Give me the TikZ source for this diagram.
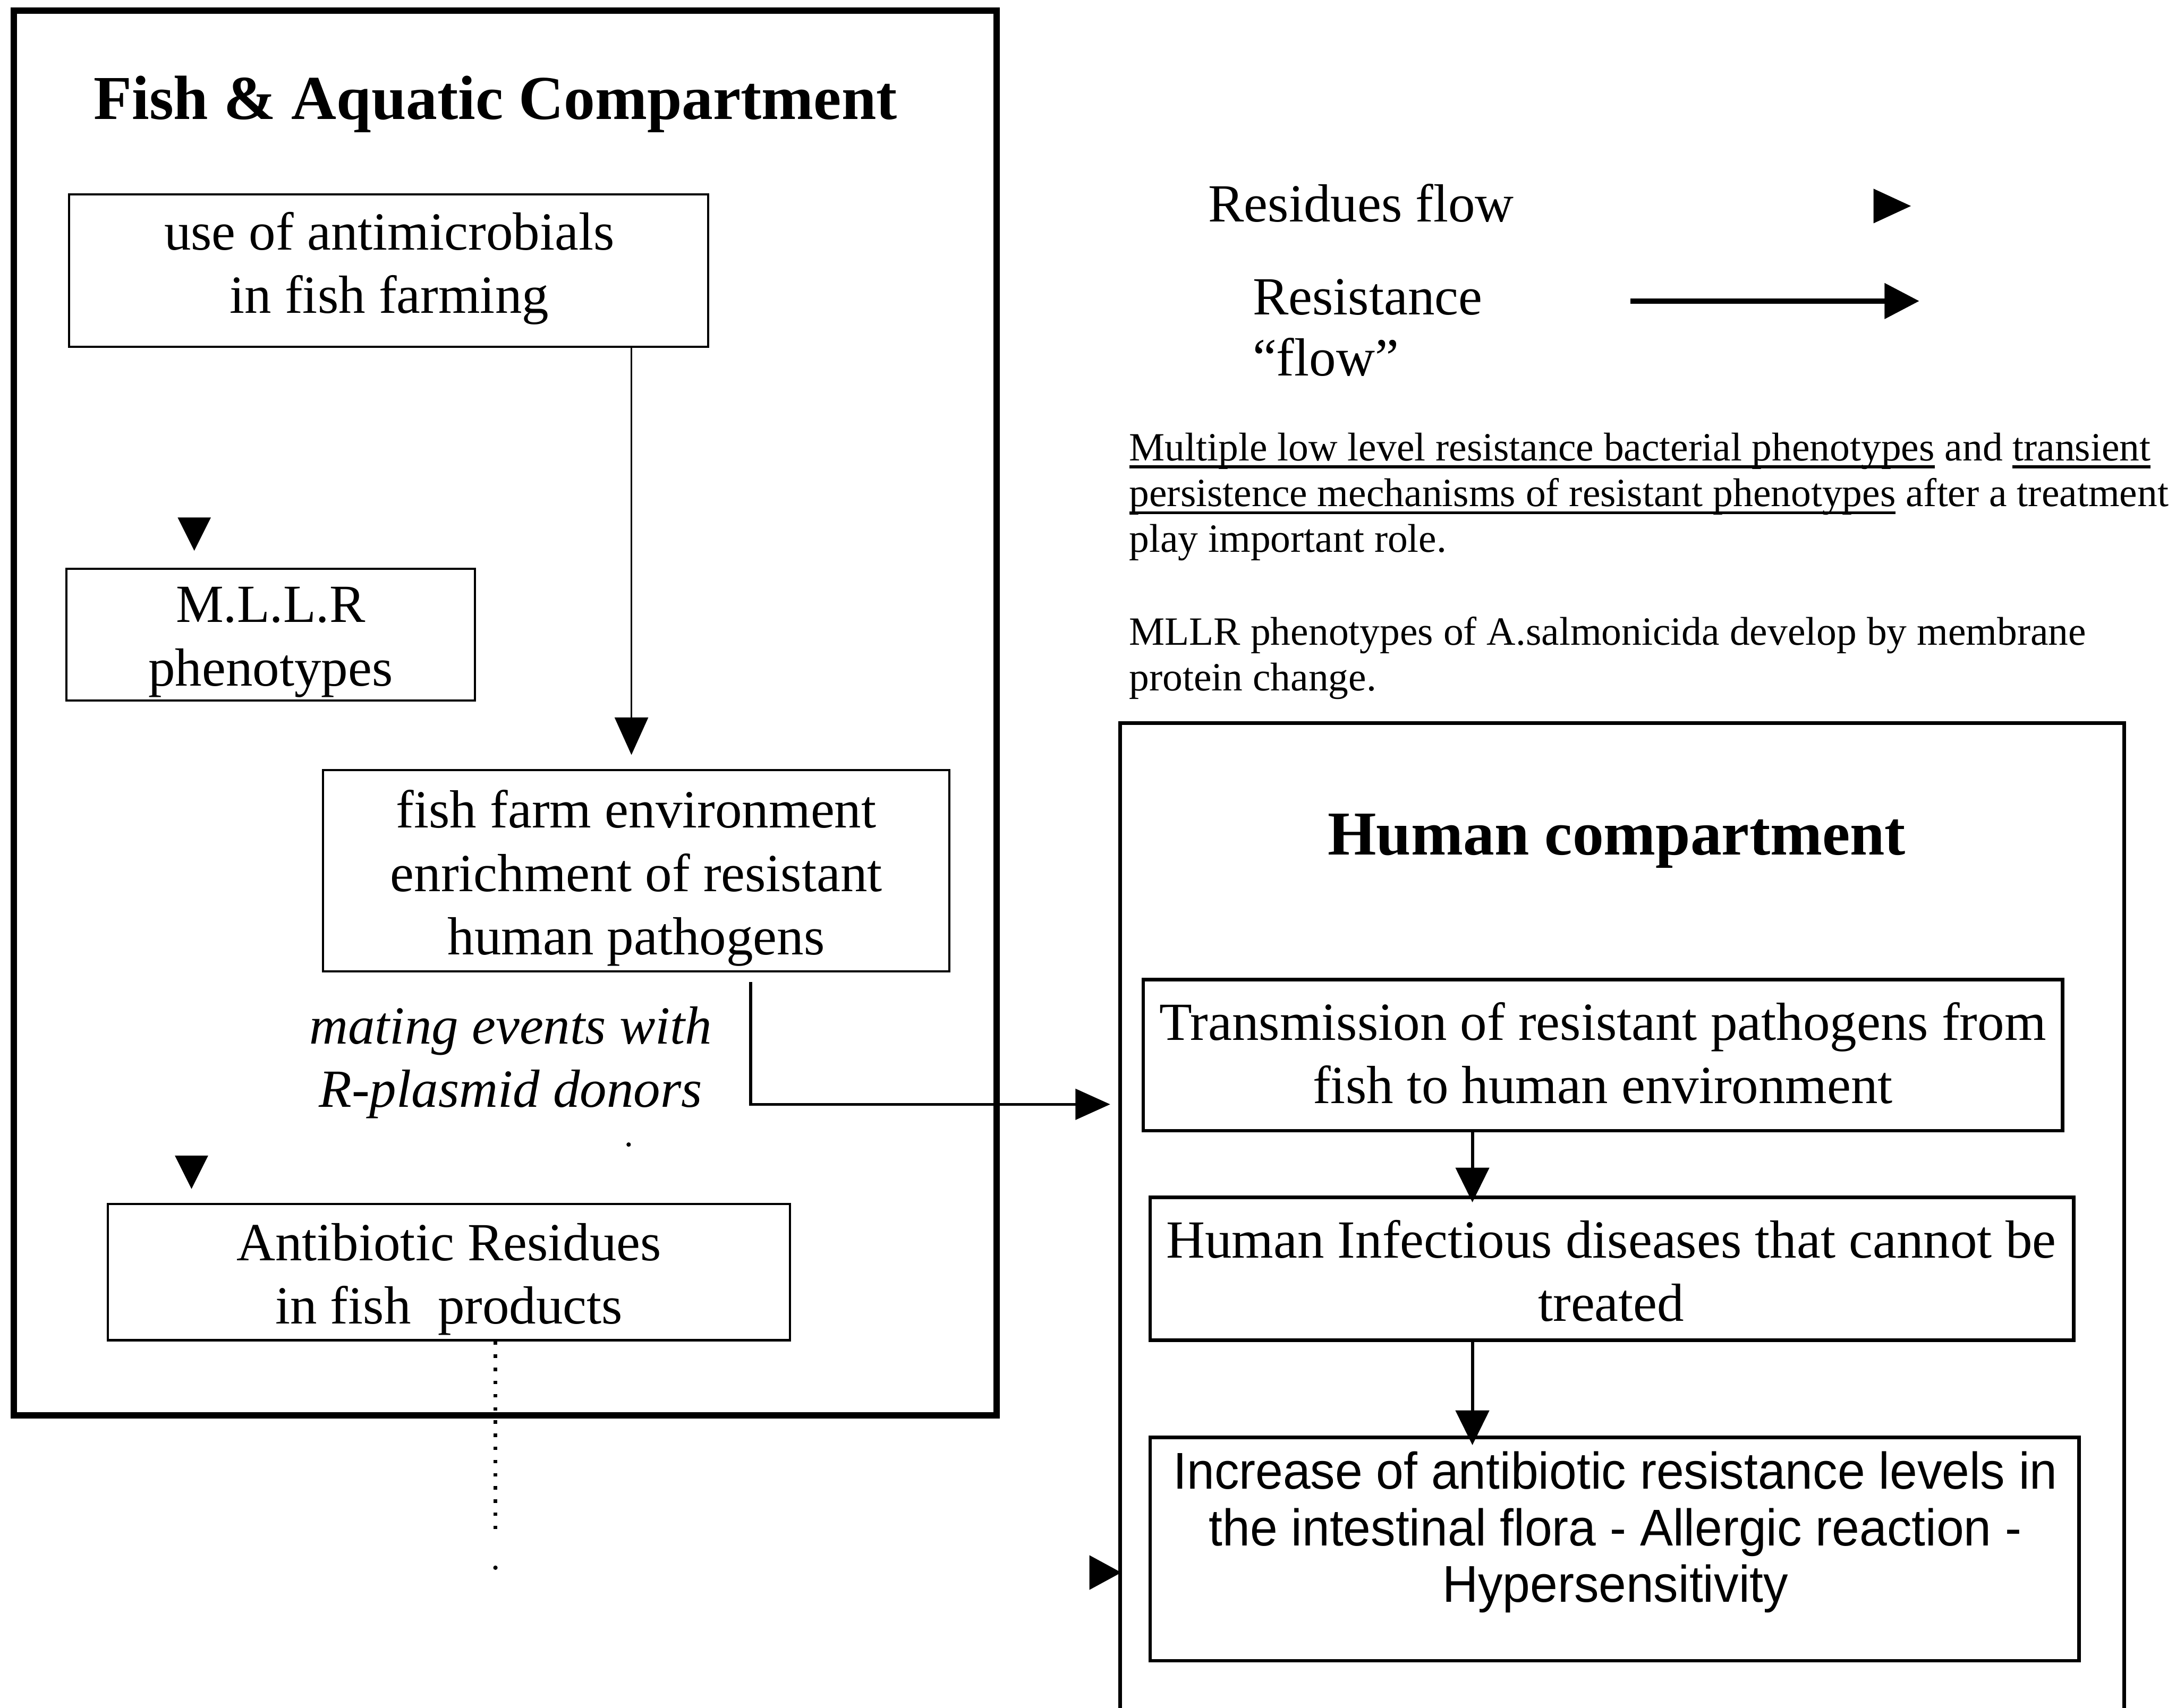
\documentclass[tikz,border=0pt]{standalone}
\usepackage{fontspec}
\setmainfont{Liberation Serif}
\newfontfamily\arialf{Liberation Sans}[FakeStretch=0.955]
\usetikzlibrary{arrows.meta}
\newcommand{\ulx}[1]{\setbox0=\hbox{#1}\rlap{\rule[-1.6pt]{\wd0}{0.6pt}}\box0\relax}
\begin{document}
\begin{tikzpicture}[x=0.01cm,y=-0.01cm,
  outer/.style={draw, line width=1.3pt, inner sep=0pt},
  lbox/.style={draw, line width=0.45pt, inner sep=0pt},
  hbox/.style={draw, line width=0.75pt, inner sep=0pt},
  btxt/.style={align=center, inner sep=0pt, font=\fontsize{11}{13}\selectfont},
  ttl/.style={font=\fontsize{12.8}{15}\selectfont\bfseries, anchor=base, inner sep=0pt},
  lgd/.style={font=\fontsize{11}{13}\selectfont, anchor=base west, inner sep=0pt},
  para/.style={font=\fontsize{8.22}{9.4}\selectfont, anchor=base west, inner sep=0pt},
  conn/.style={line width=0.4pt, -{Triangle[length=0.27cm,width=0.24cm]}},
  hconn/.style={line width=0.65pt, -{Triangle[length=0.25cm,width=0.24cm]}},
]
\path[use as bounding box] (0,0) rectangle (1568,1231);
\clip (0,0) rectangle (1568,1231);

% compartments
\node[outer, minimum width=7.08cm, minimum height=10.12cm] (fishc) at (364,514) {};
\node[draw, line width=0.75pt, inner sep=0pt, minimum width=7.23cm, minimum height=7.4cm, anchor=north west] (humc) at (806,520) {};

% titles
\node[ttl] (t1) at (357,86) {Fish \& Aquatic Compartment};
\node[ttl] (t2) at (1165,616) {Human compartment};

% left boxes
\node[lbox, minimum width=4.6cm, minimum height=1.1cm] (use) at (280,195) {};
\node[btxt] (usetxt) at (280.5,193.5) {use of antimicrobials\\in fish farming};
\node[lbox, minimum width=2.94cm, minimum height=0.95cm] (mllr) at (195,457.5) {};
\node[btxt] (mllrtxt) at (195,463) {M.L.L.R\\phenotypes};
\node[lbox, minimum width=4.51cm, minimum height=1.45cm] (farm) at (458.5,627.5) {};
\node[btxt] (farmtxt) at (458.5,633) {fish farm environment\\enrichment of resistant\\human pathogens};
\node[lbox, minimum width=4.91cm, minimum height=0.98cm] (resid) at (323.5,917) {};
\node[btxt] (residtxt) at (323.5,922) {Antibiotic Residues\\in fish~ products};
\node[btxt, font=\fontsize{11}{13}\selectfont\itshape] (mating) at (368,766) {mating events with\\R-plasmid donors};

% human boxes
\node[hbox, minimum width=6.62cm, minimum height=1.09cm] (trans) at (1155,760.5) {};
\node[btxt] (transtxt) at (1155,759) {Transmission of resistant pathogens from\\fish to human environment};
\node[hbox, minimum width=6.65cm, minimum height=1.03cm] (inf) at (1161.5,914.5) {};
\node[btxt] (inftxt) at (1161,916) {Human Infectious diseases that cannot be\\treated};
\node[hbox, minimum width=6.69cm, minimum height=1.61cm] (incr) at (1163.5,1116.5) {};
\node[align=center, inner sep=0pt, font=\arialf\fontsize{10.6}{11.6}\selectfont] (incrtext) at (1164,1104.5) {Increase of antibiotic resistance levels in\\the intestinal flora - Allergic reaction -\\Hypersensitivity};

% legend
\node[lgd] (lg1) at (870,160) {Residues flow};
\node[lgd] (lg2) at (902,227) {Resistance};
\node[lgd] (lg3) at (902,271) {“flow”};
\fill (1350,136) -- (1377,148.5) -- (1350,161) -- cycle;
\coordinate (la1) at (1175,217);
\coordinate (la2) at (1383,217);
\draw[line width=1.1pt, -{Triangle[length=0.25cm,width=0.25cm]}] (la1) -- (la2);

% paragraph
\node[para] (p1) at (813,332) {\ulx{Multiple low level resistance bacterial phenotypes} and \ulx{transient}};
\node[para] (p2) at (813,365) {\ulx{persistence mechanisms of resistant phenotypes} after a treatment};
\node[para] (p3) at (813,398) {play important role.};
\node[para] (p4) at (813,465) {MLLR phenotypes of A.salmonicida develop by membrane};
\node[para] (p5) at (813,498) {protein change.};

% connectors
\coordinate (x455) at (455,0);
\draw[conn, shorten >=0.1cm] (use.south -| x455) -- (farm.north -| x455);
\coordinate (mA) at (541,708);
\coordinate (mB) at (800,796);
\draw[line width=0.6pt, -{Triangle[length=0.25cm,width=0.22cm]}] (mA) |- (mB);
\coordinate (vx) at (1061,0);
\draw[hconn, shorten >=-0.05cm] (trans.south -| vx) -- (inf.north -| vx);
\draw[hconn, shorten >=-0.07cm] (inf.south -| vx) -- (incr.north -| vx);
\coordinate (dx) at (357,0);
\coordinate (dend) at (357,1105);
\draw[dotted, line width=0.7pt] (resid.south -| dx) -- (dend);
\fill (357,1130) circle[radius=0.45pt];
\fill (453,825) circle[radius=0.45pt];

% standalone residue-flow triangles
\fill (128,373) -- (152,373) -- (140,397) -- cycle;
\fill (126,833) -- (150,833) -- (138,857) -- cycle;
\fill (785,1121) -- (808,1133.5) -- (785,1146) -- cycle;
\end{tikzpicture}
\end{document}
